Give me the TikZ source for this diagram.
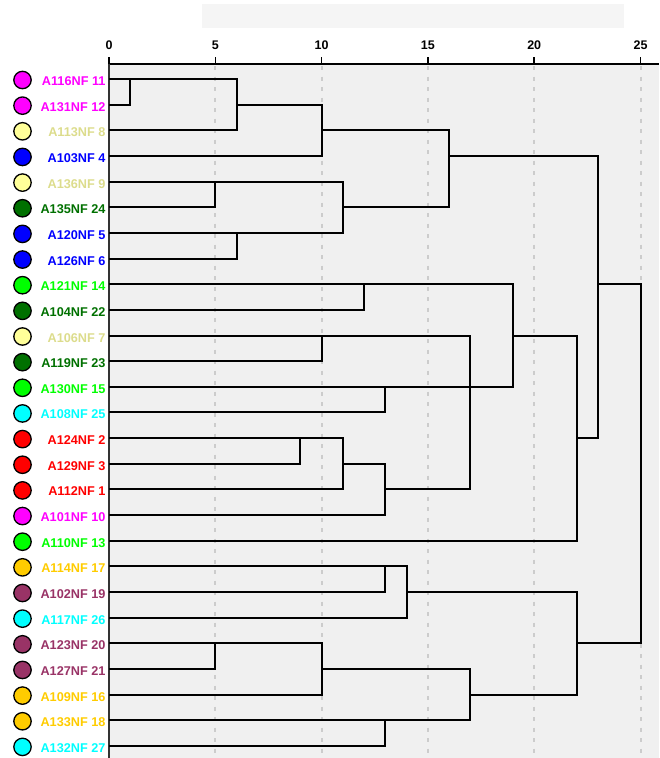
\documentclass[tikz,border=0pt]{standalone}
\usepackage{fontspec}
\setmainfont{Liberation Sans}
\definecolor{cmag}{HTML}{FF00FF}
\definecolor{cpale}{HTML}{FFFF99}
\definecolor{cpaletext}{HTML}{DCDC8C}
\definecolor{cblue}{HTML}{0000FF}
\definecolor{cdkgreen}{HTML}{007000}
\definecolor{clime}{HTML}{00FF00}
\definecolor{ccyan}{HTML}{00FFFF}
\definecolor{cred}{HTML}{FF0000}
\definecolor{cgold}{HTML}{FFCC00}
\definecolor{cplum}{HTML}{993366}
\definecolor{plotbg}{HTML}{F0F0F0}
\definecolor{barbg}{HTML}{F5F5F5}
\definecolor{gridgray}{HTML}{CCCCCC}
\begin{document}
\begin{tikzpicture}[x=1pt,y=-1pt,inner sep=0pt,outer sep=0pt,
leafdot/.style={draw,circle,line width=1.3pt,minimum size=17.4pt,fill=#1,yshift=-1pt},
leafname/.style={anchor=base east,font=\fontsize{12.7}{14}\selectfont\bfseries,text=#1,yshift=-6.5pt},
ticklabel/.style={anchor=base,font=\fontsize{12.5}{14}\selectfont\bfseries},
gridline/.style={gridgray,line width=2pt,dash pattern=on 4pt off 6.5pt},
axisline/.style={line width=1.5pt},
branch/.style={line width=2pt}]
\useasboundingbox (0,0) rectangle (659,758);
\fill[barbg] (202,4) rectangle (624,28);
\fill[plotbg] (109,64) rectangle (659,758);
\draw[gridline] (215.3,66) -- (215.3,758);
\draw[gridline] (321.6,66) -- (321.6,758);
\draw[gridline] (427.9,66) -- (427.9,758);
\draw[gridline] (534.2,66) -- (534.2,758);
\draw[gridline] (640.5,66) -- (640.5,758);
\draw[axisline] (109,64) -- (659,64);
\draw[axisline,black!80] (109,64) -- (109,758);
\draw[axisline] (109,57) -- (109,64) (109,49.3) node[ticklabel] (t0) {0};
\draw[axisline] (215.3,57) -- (215.3,64) (215.3,49.3) node[ticklabel] (t5) {5};
\draw[axisline] (321.6,57) -- (321.6,64) (321.6,49.3) node[ticklabel] (t10) {10};
\draw[axisline] (427.9,57) -- (427.9,64) (427.9,49.3) node[ticklabel] (t15) {15};
\draw[axisline] (534.2,57) -- (534.2,64) (534.2,49.3) node[ticklabel] (t20) {20};
\draw[axisline] (640.5,57) -- (640.5,64) (640.5,49.3) node[ticklabel] (t25) {25};
\begin{scope}[xshift=109pt,yshift=-53.35pt,x=21.26pt,y=-25.65pt,branch]
\draw (0,1) -| (1,2) -- (0,2);
\draw (1,1) -| (6,3) -- (0,3);
\draw (6,2) -| (10,4) -- (0,4);
\draw (0,5) -| (5,6) -- (0,6);
\draw (0,7) -| (6,8) -- (0,8);
\draw (5,5) -| (11,7) -- (6,7);
\draw (10,3) -| (16,6) -- (11,6);
\draw (16,4) -| (23,15) -- (22,15);
\draw (0,9) -| (12,10) -- (0,10);
\draw (0,11) -| (10,12) -- (0,12);
\draw (0,13) -| (13,14) -- (0,14);
\draw (0,15) -| (9,16) -- (0,16);
\draw (9,15) -| (11,17) -- (0,17);
\draw (11,16) -| (13,18) -- (0,18);
\draw (10,11) -| (17,17) -- (13,17);
\draw (12,9) -| (19,13) -- (13,13);
\draw (19,11) -| (22,19) -- (0,19);
\draw (23,9) -| (25,23) -- (22,23);
\draw (0,20) -| (13,21) -- (0,21);
\draw (13,20) -| (14,22) -- (0,22);
\draw (0,23) -| (5,24) -- (0,24);
\draw (5,23) -| (10,25) -- (0,25);
\draw (0,26) -| (13,27) -- (0,27);
\draw (10,24) -| (17,26) -- (13,26);
\draw (14,21) -| (22,25) -- (17,25);
\end{scope}
\begin{scope}[yshift=-53.35pt,y=-25.65pt]
\draw (22.5,1) node[leafdot=cmag] (d1) {} (105.5,1) node[leafname=cmag] (n1) {A116NF 11};
\draw (22.5,2) node[leafdot=cmag] (d2) {} (105.5,2) node[leafname=cmag] (n2) {A131NF 12};
\draw (22.5,3) node[leafdot=cpale] (d3) {} (105.5,3) node[leafname=cpaletext] (n3) {A113NF 8};
\draw (22.5,4) node[leafdot=cblue] (d4) {} (105.5,4) node[leafname=cblue] (n4) {A103NF 4};
\draw (22.5,5) node[leafdot=cpale] (d5) {} (105.5,5) node[leafname=cpaletext] (n5) {A136NF 9};
\draw (22.5,6) node[leafdot=cdkgreen] (d6) {} (105.5,6) node[leafname=cdkgreen] (n6) {A135NF 24};
\draw (22.5,7) node[leafdot=cblue] (d7) {} (105.5,7) node[leafname=cblue] (n7) {A120NF 5};
\draw (22.5,8) node[leafdot=cblue] (d8) {} (105.5,8) node[leafname=cblue] (n8) {A126NF 6};
\draw (22.5,9) node[leafdot=clime] (d9) {} (105.5,9) node[leafname=clime] (n9) {A121NF 14};
\draw (22.5,10) node[leafdot=cdkgreen] (d10) {} (105.5,10) node[leafname=cdkgreen] (n10) {A104NF 22};
\draw (22.5,11) node[leafdot=cpale] (d11) {} (105.5,11) node[leafname=cpaletext] (n11) {A106NF 7};
\draw (22.5,12) node[leafdot=cdkgreen] (d12) {} (105.5,12) node[leafname=cdkgreen] (n12) {A119NF 23};
\draw (22.5,13) node[leafdot=clime] (d13) {} (105.5,13) node[leafname=clime] (n13) {A130NF 15};
\draw (22.5,14) node[leafdot=ccyan] (d14) {} (105.5,14) node[leafname=ccyan] (n14) {A108NF 25};
\draw (22.5,15) node[leafdot=cred] (d15) {} (105.5,15) node[leafname=cred] (n15) {A124NF 2};
\draw (22.5,16) node[leafdot=cred] (d16) {} (105.5,16) node[leafname=cred] (n16) {A129NF 3};
\draw (22.5,17) node[leafdot=cred] (d17) {} (105.5,17) node[leafname=cred] (n17) {A112NF 1};
\draw (22.5,18) node[leafdot=cmag] (d18) {} (105.5,18) node[leafname=cmag] (n18) {A101NF 10};
\draw (22.5,19) node[leafdot=clime] (d19) {} (105.5,19) node[leafname=clime] (n19) {A110NF 13};
\draw (22.5,20) node[leafdot=cgold] (d20) {} (105.5,20) node[leafname=cgold] (n20) {A114NF 17};
\draw (22.5,21) node[leafdot=cplum] (d21) {} (105.5,21) node[leafname=cplum] (n21) {A102NF 19};
\draw (22.5,22) node[leafdot=ccyan] (d22) {} (105.5,22) node[leafname=ccyan] (n22) {A117NF 26};
\draw (22.5,23) node[leafdot=cplum] (d23) {} (105.5,23) node[leafname=cplum] (n23) {A123NF 20};
\draw (22.5,24) node[leafdot=cplum] (d24) {} (105.5,24) node[leafname=cplum] (n24) {A127NF 21};
\draw (22.5,25) node[leafdot=cgold] (d25) {} (105.5,25) node[leafname=cgold] (n25) {A109NF 16};
\draw (22.5,26) node[leafdot=cgold] (d26) {} (105.5,26) node[leafname=cgold] (n26) {A133NF 18};
\draw (22.5,27) node[leafdot=ccyan] (d27) {} (105.5,27) node[leafname=ccyan] (n27) {A132NF 27};
\end{scope}
\end{tikzpicture}
\end{document}
